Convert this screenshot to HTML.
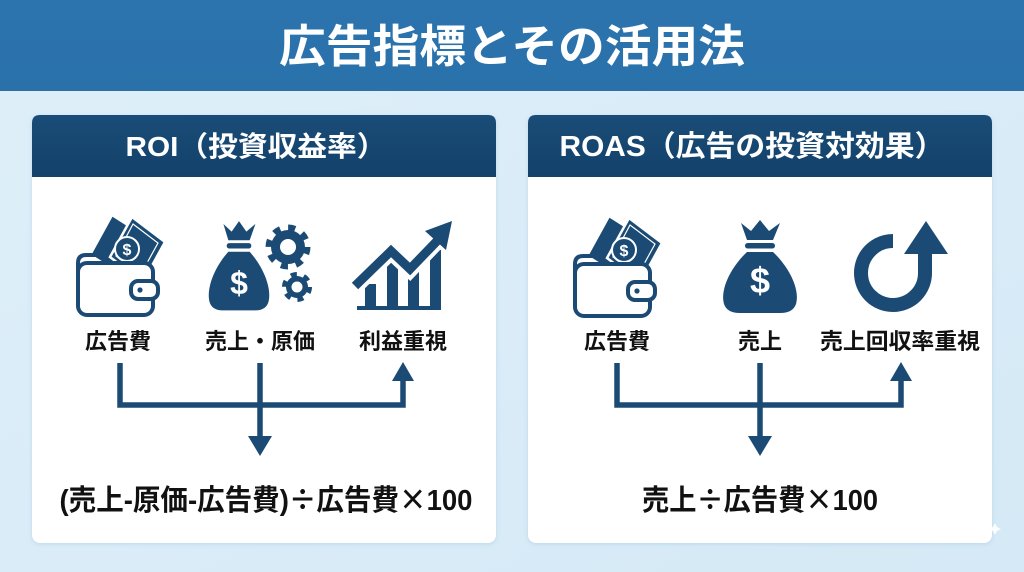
<!DOCTYPE html>
<html><head><meta charset="utf-8">
<style>
html,body{margin:0;padding:0;width:1024px;height:572px;overflow:hidden;background:#dbedf8;}
svg{display:block;}
text{font-family:"Liberation Sans","Noto Sans CJK JP",sans-serif;font-weight:bold;}
.cj{font-family:"Noto Sans CJK JP",sans-serif;}
</style></head>
<body>
<svg width="1024" height="572" viewBox="0 0 1024 572" xmlns="http://www.w3.org/2000/svg">
<defs>
  <linearGradient id="bg" x1="0" y1="0" x2="1" y2="1">
    <stop offset="0" stop-color="#deeff9"/>
    <stop offset="1" stop-color="#d5e9f6"/>
  </linearGradient>
  <linearGradient id="ban" x1="0" y1="0" x2="0" y2="1">
    <stop offset="0" stop-color="#2c74ae"/>
    <stop offset="1" stop-color="#2a71aa"/>
  </linearGradient>
  <linearGradient id="hd" x1="0" y1="0" x2="0" y2="1">
    <stop offset="0" stop-color="#194c77"/>
    <stop offset="1" stop-color="#13426b"/>
  </linearGradient>
  <filter id="sh" x="-5%" y="-5%" width="110%" height="110%">
    <feDropShadow dx="0" dy="1" stdDeviation="2" flood-color="#6a9cc0" flood-opacity="0.25"/>
  </filter>
  <g id="wallet">
    <polygon points="112,215 150,239 128,279 90,255" fill="#1b4b74" stroke="#fff" stroke-width="2.5"/>
    <polygon points="132,217 165,242 143,282 110,257" fill="#1b4b74" stroke="#fff" stroke-width="2.5"/>
    <polygon points="133,224 158,243 141,274 116,256" fill="none" stroke="#fff" stroke-width="1.2"/>
    <circle cx="127" cy="249" r="12" fill="#1b4b74" stroke="#fff" stroke-width="2"/>
    <text x="127" y="255" font-size="16" fill="#fff" text-anchor="middle">$</text>
    <path d="M78 272 V263 Q78 255 86 255 H96" fill="none" stroke="#1b4b74" stroke-width="4"/>
    <rect x="78" y="263" width="75" height="52" rx="9" fill="#fff" stroke="#1b4b74" stroke-width="4"/>
    <rect x="131" y="281" width="27" height="18" rx="7" fill="#fff" stroke="#1b4b74" stroke-width="4"/>
    <circle cx="140" cy="290" r="2.6" fill="#1b4b74"/>
  </g>
  <g id="bag">
    <path d="M-19 1 L-9 9 L0 -2 L9 9 L20 1 L13 18 L-13 18 Z" fill="#1b4b74"/>
    <rect x="-15" y="21" width="30" height="5.5" rx="2.7" fill="#1b4b74"/>
    <path d="M-13 30 L13 30 C30 46 40 68 36 82 Q33 91 20 91 L-20 91 Q-33 91 -36 82 C-40 68 -30 46 -13 30 Z" fill="#1b4b74"/>
  </g>
</defs>

<rect x="0" y="0" width="1024" height="572" fill="url(#bg)"/>
<rect x="0" y="0" width="1024" height="91" fill="url(#ban)"/>
<text x="512" y="62" font-size="45" fill="#fff" text-anchor="middle" textLength="466" lengthAdjust="spacingAndGlyphs">広告指標とその活用法</text>

<!-- Left card -->
<g filter="url(#sh)">
  <rect x="32" y="115" width="464" height="428" rx="8" fill="#fff"/>
</g>
<path d="M32 177 V123 Q32 115 40 115 H488 Q496 115 496 123 V177 Z" fill="url(#hd)"/>
<text x="256" y="156" font-size="28" fill="#fff" text-anchor="middle" textLength="261" lengthAdjust="spacingAndGlyphs">ROI（投資収益率）</text>

<!-- Right card -->
<g filter="url(#sh)">
  <rect x="528" y="115" width="464" height="428" rx="8" fill="#fff"/>
</g>
<path d="M528 177 V123 Q528 115 536 115 H984 Q992 115 992 123 V177 Z" fill="url(#hd)"/>
<text x="752" y="156" font-size="29" fill="#fff" text-anchor="middle" textLength="385" lengthAdjust="spacingAndGlyphs">ROAS（広告の投資対効果）</text>

<!-- Left icons -->
<use href="#wallet"/>
<g transform="translate(239,223) scale(0.82,0.96)"><use href="#bag"/></g>
<text x="239" y="294" font-size="32" fill="#fff" text-anchor="middle">$</text>
<!-- gears -->
<circle cx="288" cy="247" r="17" fill="#1b4b74"/>
<circle cx="288" cy="247" r="19" fill="none" stroke="#1b4b74" stroke-width="7" stroke-dasharray="7 7.92"/>
<circle cx="288" cy="247" r="8" fill="#fff"/>
<circle cx="297" cy="287" r="11" fill="#1b4b74"/>
<circle cx="297" cy="287" r="12.5" fill="none" stroke="#1b4b74" stroke-width="5" stroke-dasharray="6 7.09"/>
<circle cx="297" cy="287" r="5.5" fill="#fff"/>
<!-- chart -->
<rect x="357" y="306" width="84" height="4" fill="#1b4b74"/>
<rect x="365" y="284" width="11" height="23" fill="#1b4b74"/>
<rect x="387" y="262" width="11" height="45" fill="#1b4b74"/>
<rect x="408" y="270" width="11" height="37" fill="#1b4b74"/>
<rect x="430" y="250" width="11" height="57" fill="#1b4b74"/>
<polyline points="355,286 391,251 410,269 436,242" fill="none" stroke="#fff" stroke-width="17" stroke-linejoin="miter"/>
<polyline points="355,286 391,251 410,269 438,240" fill="none" stroke="#1b4b74" stroke-width="9" stroke-linejoin="miter"/>
<polygon points="452,221 446,250 425,231" fill="#1b4b74"/>

<!-- Left labels -->
<text x="118" y="349" font-size="22" fill="#111" text-anchor="middle">広告費</text>
<text x="260" y="349" font-size="22" fill="#111" text-anchor="middle">売上・原価</text>
<text x="403" y="349" font-size="22" fill="#111" text-anchor="middle">利益重視</text>

<!-- Left connectors -->
<path d="M120 363 V405 H403 V378" fill="none" stroke="#1b4b74" stroke-width="5.5"/>
<polygon points="392,381 414,381 403,362" fill="#1b4b74"/>
<path d="M260 363 V440" fill="none" stroke="#1b4b74" stroke-width="5.5"/>
<polygon points="248,436 272,436 260,456" fill="#1b4b74"/>

<text x="266" y="510" font-size="29" fill="#111" text-anchor="middle" textLength="413" lengthAdjust="spacingAndGlyphs">(売上-原価-広告費)<tspan class="cj">÷</tspan>広告費<tspan class="cj">×</tspan>100</text>

<!-- Right icons -->
<g transform="translate(497,1)"><use href="#wallet"/></g>
<g transform="translate(760,222)"><use href="#bag"/></g>
<text x="760" y="293" font-size="36" fill="#fff" text-anchor="middle">$</text>
<!-- circular arrow -->
<path d="M893 241 A32 32 0 1 0 925 273 V251" fill="none" stroke="#1b4b74" stroke-width="14"/>
<polygon points="904,254 948,254 926,221" fill="#1b4b74"/>

<!-- Right labels -->
<text x="617" y="349" font-size="22" fill="#111" text-anchor="middle">広告費</text>
<text x="760" y="349" font-size="22" fill="#111" text-anchor="middle">売上</text>
<text x="900" y="349" font-size="22" fill="#111" text-anchor="middle" textLength="160" lengthAdjust="spacingAndGlyphs">売上回収率重視</text>

<!-- Right connectors -->
<path d="M617 363 V405 H901 V378" fill="none" stroke="#1b4b74" stroke-width="5.5"/>
<polygon points="890,381 912,381 901,362" fill="#1b4b74"/>
<path d="M760 363 V440" fill="none" stroke="#1b4b74" stroke-width="5.5"/>
<polygon points="748,436 772,436 760,456" fill="#1b4b74"/>

<text x="760" y="510" font-size="29" fill="#111" text-anchor="middle" textLength="236" lengthAdjust="spacingAndGlyphs">売上<tspan class="cj">÷</tspan>広告費<tspan class="cj">×</tspan>100</text>

<!-- sparkle -->
<path d="M995 523 L997 527 L1001 529 L997 531 L995 535 L993 531 L989 529 L993 527 Z" fill="#fff" opacity="0.9"/>
</svg>
</body></html>
